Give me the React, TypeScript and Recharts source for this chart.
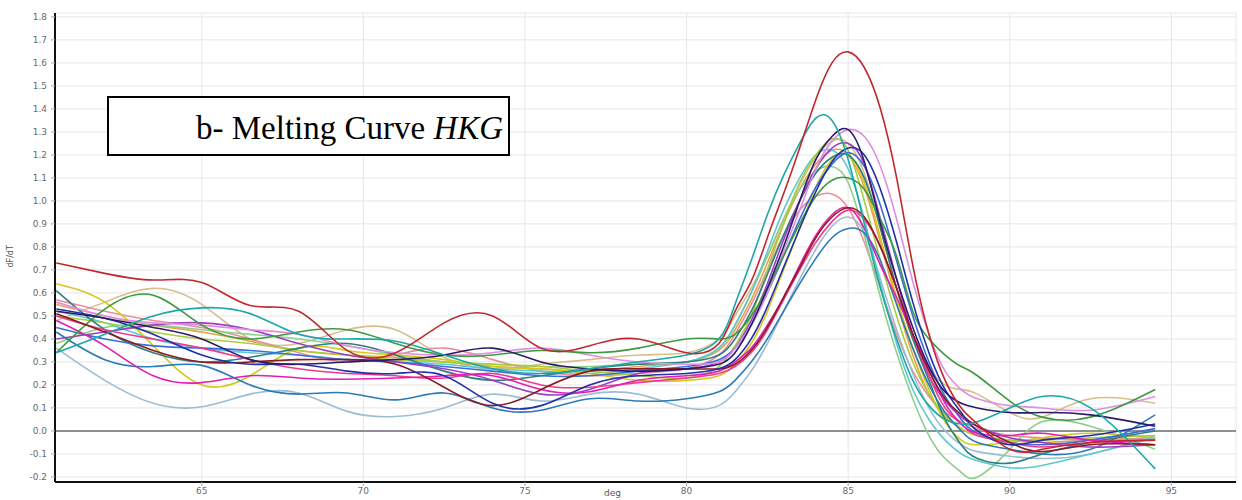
import React from 'react';
import { LineChart, Line, XAxis, YAxis, CartesianGrid, ReferenceLine } from 'recharts';

// Temperature points (deg C) at which every derivative curve is sampled
const temps = [
  60.5, 62, 63.5, 65, 66.5, 68, 69.5, 71, 72.5, 74, 75.5, 77, 78.5, 80,
  81, 81.5, 82, 82.5, 83, 83.5, 84, 84.5, 85, 85.5, 86, 86.5, 87, 87.5, 88, 88.5,
  89, 90, 91, 92.5, 94.5,
];

// -dF/dT values per well
const wellA = [0.73, 0.685, 0.656, 0.645, 0.545, 0.52, 0.35, 0.34, 0.47, 0.50, 0.36, 0.37, 0.40, 0.34, 0.38, 0.52, 0.65, 0.84, 1.03, 1.23, 1.44, 1.60, 1.648, 1.58, 1.40, 1.10, 0.72, 0.42, 0.22, 0.10, 0.03, -0.08, -0.08, -0.05, -0.04];
const wellB = [0.34, 0.42, 0.50, 0.535, 0.51, 0.42, 0.40, 0.39, 0.33, 0.27, 0.25, 0.27, 0.30, 0.33, 0.40, 0.55, 0.74, 0.94, 1.11, 1.25, 1.36, 1.35, 1.18, 0.90, 0.62, 0.40, 0.22, 0.11, 0.05, 0.03, 0.04, 0.10, 0.15, 0.10, -0.165];
const wellC = [0.52, 0.49, 0.45, 0.40, 0.31, 0.29, 0.30, 0.31, 0.33, 0.36, 0.30, 0.27, 0.26, 0.27, 0.29, 0.34, 0.46, 0.62, 0.80, 1.00, 1.18, 1.28, 1.31, 1.17, 0.90, 0.66, 0.45, 0.28, 0.17, 0.12, 0.10, 0.08, 0.08, 0.07, 0.02];
const wellD = [0.56, 0.50, 0.47, 0.46, 0.44, 0.42, 0.37, 0.34, 0.33, 0.34, 0.36, 0.33, 0.30, 0.29, 0.30, 0.36, 0.46, 0.60, 0.78, 0.96, 1.14, 1.26, 1.31, 1.28, 1.15, 0.92, 0.65, 0.42, 0.26, 0.18, 0.14, 0.11, 0.10, 0.09, 0.15];
const wellE = [0.50, 0.47, 0.43, 0.40, 0.38, 0.35, 0.33, 0.31, 0.30, 0.29, 0.28, 0.26, 0.24, 0.23, 0.28, 0.37, 0.50, 0.70, 0.90, 1.08, 1.20, 1.27, 1.22, 1.00, 0.74, 0.50, 0.30, 0.16, 0.07, 0.01, -0.02, -0.04, -0.04, -0.03, -0.02];
const wellF = [0.64, 0.56, 0.37, 0.20, 0.24, 0.36, 0.35, 0.33, 0.31, 0.28, 0.27, 0.25, 0.22, 0.22, 0.24, 0.29, 0.38, 0.52, 0.70, 0.88, 1.06, 1.18, 1.20, 1.08, 0.84, 0.58, 0.36, 0.18, 0.04, -0.04, -0.06, -0.05, -0.03, -0.01, -0.03];
const wellG = [0.48, 0.56, 0.62, 0.55, 0.40, 0.38, 0.44, 0.44, 0.32, 0.27, 0.29, 0.31, 0.33, 0.34, 0.40, 0.50, 0.62, 0.76, 0.92, 1.07, 1.19, 1.26, 1.25, 1.12, 0.88, 0.62, 0.40, 0.27, 0.20, 0.18, 0.16, 0.08, 0.06, 0.14, 0.12];
const wellH = [0.40, 0.43, 0.46, 0.47, 0.44, 0.38, 0.33, 0.30, 0.27, 0.22, 0.16, 0.18, 0.25, 0.27, 0.30, 0.36, 0.48, 0.64, 0.83, 1.00, 1.14, 1.23, 1.25, 1.16, 0.92, 0.66, 0.42, 0.24, 0.13, 0.06, 0.02, -0.03, -0.05, -0.07, -0.06];
const wellI = [0.53, 0.49, 0.42, 0.33, 0.29, 0.29, 0.26, 0.25, 0.24, 0.12, 0.11, 0.20, 0.24, 0.25, 0.27, 0.31, 0.40, 0.54, 0.71, 0.88, 1.04, 1.17, 1.23, 1.20, 1.05, 0.82, 0.56, 0.34, 0.18, 0.08, 0.00, -0.06, -0.04, -0.02, 0.03];
const wellJ = [0.34, 0.53, 0.59, 0.46, 0.40, 0.43, 0.44, 0.38, 0.33, 0.33, 0.35, 0.34, 0.36, 0.40, 0.40, 0.42, 0.50, 0.62, 0.76, 0.90, 1.02, 1.09, 1.10, 1.05, 0.92, 0.76, 0.52, 0.40, 0.33, 0.28, 0.24, 0.13, 0.06, 0.06, 0.18];
const wellK = [0.38, 0.45, 0.46, 0.44, 0.42, 0.40, 0.37, 0.33, 0.30, 0.29, 0.28, 0.28, 0.29, 0.30, 0.36, 0.46, 0.60, 0.76, 0.92, 1.05, 1.13, 1.15, 1.08, 0.85, 0.58, 0.34, 0.14, -0.02, -0.12, -0.18, -0.20, -0.08, 0.04, 0.02, -0.08];
const wellL = [0.57, 0.52, 0.48, 0.45, 0.40, 0.34, 0.30, 0.33, 0.36, 0.31, 0.26, 0.24, 0.25, 0.27, 0.33, 0.42, 0.55, 0.70, 0.85, 0.96, 1.02, 1.03, 0.97, 0.82, 0.62, 0.42, 0.26, 0.15, 0.08, 0.04, 0.01, -0.02, -0.03, -0.04, -0.03];
const wellM = [0.51, 0.43, 0.35, 0.30, 0.30, 0.31, 0.31, 0.29, 0.19, 0.11, 0.18, 0.26, 0.27, 0.27, 0.27, 0.29, 0.35, 0.45, 0.58, 0.71, 0.84, 0.93, 0.97, 0.93, 0.80, 0.62, 0.42, 0.26, 0.14, 0.07, 0.02, -0.05, -0.09, -0.06, -0.06];
const wellN = [0.48, 0.37, 0.24, 0.21, 0.24, 0.23, 0.225, 0.23, 0.24, 0.24, 0.18, 0.17, 0.22, 0.24, 0.26, 0.30, 0.36, 0.46, 0.58, 0.72, 0.85, 0.94, 0.97, 0.88, 0.72, 0.58, 0.42, 0.27, 0.12, 0.03, -0.01, -0.02, -0.01, -0.04, -0.06];
const wellO = [0.36, 0.22, 0.12, 0.105, 0.16, 0.165, 0.085, 0.063, 0.10, 0.16, 0.13, 0.16, 0.16, 0.10, 0.11, 0.17, 0.26, 0.38, 0.52, 0.66, 0.79, 0.89, 0.93, 0.86, 0.66, 0.44, 0.25, 0.10, 0.00, -0.06, -0.09, -0.11, -0.12, -0.10, -0.02];
const wellP = [0.43, 0.31, 0.28, 0.285, 0.20, 0.16, 0.165, 0.135, 0.165, 0.10, 0.09, 0.14, 0.13, 0.14, 0.17, 0.22, 0.30, 0.40, 0.52, 0.64, 0.75, 0.84, 0.88, 0.86, 0.74, 0.55, 0.36, 0.20, 0.08, 0.00, -0.05, -0.08, -0.10, -0.08, 0.07];
const wellQ = [0.61, 0.44, 0.34, 0.30, 0.32, 0.36, 0.38, 0.33, 0.26, 0.22, 0.24, 0.27, 0.29, 0.30, 0.33, 0.40, 0.52, 0.68, 0.85, 1.00, 1.12, 1.19, 1.20, 1.10, 0.88, 0.62, 0.40, 0.22, 0.05, -0.06, -0.12, -0.14, -0.10, -0.05, 0.00];
const wellR = [0.52, 0.47, 0.40, 0.36, 0.34, 0.33, 0.31, 0.30, 0.29, 0.27, 0.26, 0.25, 0.27, 0.30, 0.36, 0.46, 0.60, 0.78, 0.96, 1.10, 1.20, 1.22, 1.14, 0.92, 0.64, 0.38, 0.18, 0.05, -0.04, -0.10, -0.13, -0.16, -0.15, -0.10, -0.03];
const wellS = [0.45, 0.40, 0.37, 0.36, 0.35, 0.33, 0.31, 0.30, 0.28, 0.26, 0.24, 0.24, 0.26, 0.28, 0.31, 0.36, 0.46, 0.60, 0.76, 0.92, 1.06, 1.16, 1.21, 1.15, 0.98, 0.74, 0.50, 0.30, 0.15, 0.05, -0.01, -0.05, -0.06, -0.04, 0.01];
const wellT = [0.50, 0.44, 0.40, 0.36, 0.31, 0.27, 0.25, 0.24, 0.23, 0.25, 0.20, 0.19, 0.21, 0.23, 0.25, 0.28, 0.34, 0.44, 0.57, 0.70, 0.82, 0.91, 0.96, 0.92, 0.80, 0.62, 0.42, 0.24, 0.10, 0.03, -0.02, -0.05, -0.07, -0.05, -0.04];
const wellU = [0.55, 0.50, 0.46, 0.43, 0.39, 0.35, 0.33, 0.32, 0.30, 0.28, 0.27, 0.26, 0.28, 0.30, 0.35, 0.44, 0.57, 0.73, 0.90, 1.05, 1.16, 1.22, 1.20, 1.06, 0.82, 0.56, 0.33, 0.16, 0.06, 0.01, -0.02, -0.04, -0.05, -0.04, -0.03];

const wells = [
  { key: 'wU', color: '#e9a24c', values: wellU },
  { key: 'wG', color: '#d6bf8c', values: wellG },
  { key: 'wL', color: '#ea8f9a', values: wellL },
  { key: 'wO', color: '#9dbdd6', values: wellO },
  { key: 'wK', color: '#8dcf8a', values: wellK },
  { key: 'wR', color: '#5ec8d2', values: wellR },
  { key: 'wF', color: '#d4c81e', values: wellF },
  { key: 'wE', color: '#a9cd3e', values: wellE },
  { key: 'wP', color: '#2b7bb7', values: wellP },
  { key: 'wQ', color: '#2e7f80', values: wellQ },
  { key: 'wS', color: '#3a6fd8', values: wellS },
  { key: 'wH', color: '#9b40c4', values: wellH },
  { key: 'wD', color: '#de8fe0', values: wellD },
  { key: 'wT', color: '#ef3a8e', values: wellT },
  { key: 'wN', color: '#e01fb5', values: wellN },
  { key: 'wJ', color: '#3c9a3f', values: wellJ },
  { key: 'wM', color: '#8a1b22', values: wellM },
  { key: 'wI', color: '#2030a8', values: wellI },
  { key: 'wC', color: '#2b1b6b', values: wellC },
  { key: 'wB', color: '#1aa8a8', values: wellB },
  { key: 'wA', color: '#c0282d', values: wellA },
];

const xTicks = [65, 70, 75, 80, 85, 90, 95];
const yTicks = [-0.2, -0.1, 0, 0.1, 0.2, 0.3, 0.4, 0.5, 0.6, 0.7, 0.8, 0.9, 1.0, 1.1, 1.2, 1.3, 1.4, 1.5, 1.6, 1.7, 1.8];

const xDomain: [number, number] = [60.46, 97];
const yDomain: [number, number] = [-0.222, 1.817];

const rows = temps.map((t, i) => {
  const row: Record<string, number> = { t };
  wells.forEach((w) => {
    row[w.key] = w.values[i];
  });
  return row;
});

const tickStyle = { fontSize: 9, fill: '#6a6a6a', fontFamily: 'DejaVu Sans, Arial, sans-serif' };

export default function App() {
  return (
    <div style={{ position: 'absolute', left: 0, top: 0, width: 1242, height: 500, background: '#fff', overflow: 'hidden' }}>
      <LineChart width={1242} height={500} data={rows} margin={{ top: 13, right: 6, bottom: 0, left: 0 }}>
        <CartesianGrid stroke="#e6e6e6" strokeWidth={1} />
        <XAxis
          dataKey="t"
          type="number"
          domain={xDomain}
          ticks={xTicks}
          allowDataOverflow
          height={18}
          tickSize={4}
          tick={tickStyle}
          tickLine={{ stroke: '#aaa' }}
          axisLine={{ stroke: '#111', strokeWidth: 2 }}
          label={{ value: 'deg', position: 'insideBottom', offset: 4, dx: -33, style: { fontSize: 9, fill: '#555', fontFamily: 'DejaVu Sans, Arial, sans-serif' } }}
        />
        <XAxis
          xAxisId="top"
          orientation="top"
          type="number"
          domain={xDomain}
          height={0}
          tick={false}
          tickLine={false}
          axisLine={{ stroke: '#6f6f6f', strokeWidth: 1.5 }}
        />
        <YAxis
          type="number"
          domain={yDomain}
          ticks={yTicks}
          allowDataOverflow
          interval={0}
          width={55}
          tickSize={4}
          tickMargin={4}
          tick={tickStyle}
          tickLine={{ stroke: '#aaa' }}
          axisLine={{ stroke: '#111', strokeWidth: 2 }}
          tickFormatter={(v: number) => v.toFixed(1)}
          label={{ value: 'dF/dT', angle: -90, position: 'insideLeft', offset: 10, dy: 20, style: { fontSize: 8, fill: '#555', fontFamily: 'DejaVu Sans, Arial, sans-serif' } }}
        />
        <YAxis
          yAxisId="right"
          orientation="right"
          type="number"
          domain={yDomain}
          width={0}
          tick={false}
          tickLine={false}
          axisLine={{ stroke: '#333', strokeWidth: 2 }}
        />
        <ReferenceLine y={0} stroke="#6e6e78" strokeWidth={1.5} />
        {wells.map((w) => (
          <Line
            key={w.key}
            dataKey={w.key}
            type="natural"
            stroke={w.color}
            strokeWidth={1.6}
            dot={false}
            activeDot={false}
            isAnimationActive={false}
          />
        ))}
      </LineChart>
      <div
        style={{
          position: 'absolute',
          left: 107,
          top: 96,
          width: 403,
          height: 60,
          boxSizing: 'border-box',
          border: '2px solid #000',
          background: '#fff',
          display: 'flex',
          alignItems: 'center',
          paddingLeft: 87,
          paddingTop: 4,
          fontFamily: '"Liberation Serif", "Times New Roman", serif',
          fontSize: 33,
          color: '#000',
          whiteSpace: 'nowrap',
        }}
      >
        <span>b- Melting Curve&nbsp;</span>
        <span style={{ fontStyle: 'italic' }}>HKG</span>
      </div>
    </div>
  );
}
